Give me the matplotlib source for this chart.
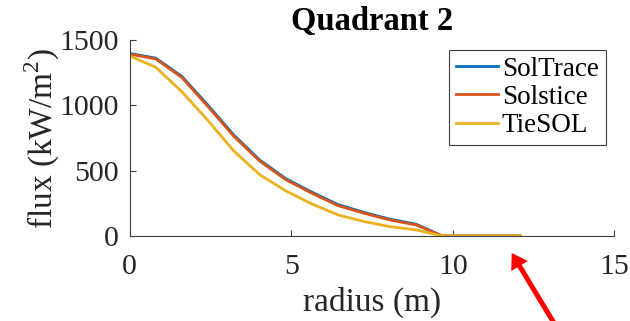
import matplotlib

matplotlib.use("Agg")
import matplotlib.pyplot as plt

# radial bins (m) and flux per tracer (kW/m^2)
radius = [0.0, 0.806, 1.612, 2.418, 3.224, 4.03, 4.836, 5.642, 6.448,
          7.254, 8.06, 8.866, 9.672, 10.478, 11.284, 12.09]
soltrace = [1398, 1362, 1222, 1002, 772, 580, 438, 335, 240,
            180, 128, 90, 0, 0, 0, 0]
solstice = [1393, 1356, 1214, 992, 763, 572, 430, 327, 232,
            174, 122, 84, 0, 0, 0, 0]
tiesol = [1378, 1292, 1105, 885, 650, 468, 345, 245, 161,
          110, 71, 46, 0, 0, 0, 0]

series = [("SolTrace", soltrace, "#0072BD"),
          ("Solstice", solstice, "#D95319"),
          ("TieSOL", tiesol, "#EDB120")]

plt.rcParams["font.family"] = ["Liberation Serif", "DejaVu Serif"]
plt.rcParams["mathtext.fontset"] = "custom"
plt.rcParams["mathtext.rm"] = "Liberation Serif"

fig = plt.figure(figsize=(6.3, 3.21), dpi=100)
ax = fig.add_axes([0.206, 0.265, 0.769, 0.61])

for name, values, color in series:
    ax.plot(radius, values, color=color, linewidth=2.0, label=name)

ax.set_xlim(0, 15)
ax.set_ylim(0, 1500)
ax.set_xticks([0, 5, 10, 15])
ax.set_yticks([0, 500, 1000, 1500])
for side in ("top", "right"):
    ax.spines[side].set_visible(False)
for side in ("left", "bottom"):
    ax.spines[side].set_color("#404040")
    ax.spines[side].set_linewidth(0.8)
ax.tick_params(direction="in", length=4, width=0.8, color="#404040",
               labelsize=21.5, labelcolor="#262626")
ax.tick_params(axis="x", pad=13)
ax.tick_params(axis="y", pad=8)

ax.set_xlabel("radius (m)", fontsize=24, color="#262626", labelpad=5)
ax.set_ylabel("flux (kW/m$^2$)", fontsize=24, color="#262626", labelpad=-2)
ax.set_title("Quadrant 2", fontsize=23.5, fontweight="bold", pad=7)

leg = ax.legend(loc="upper right", bbox_to_anchor=(0.982, 0.95), fontsize=19.5,
                frameon=True, fancybox=False, framealpha=1, edgecolor="#404040",
                handlelength=1.55, handletextpad=0.15, borderpad=0.25,
                labelspacing=0.12, borderaxespad=0)
leg.get_frame().set_linewidth(0.8)

# pointer to the zero-flux tail
fig.add_artist(plt.matplotlib.text.Annotation(
    "", xy=(511.7, 68), xytext=(560, -12),
    xycoords="figure pixels", textcoords="figure pixels",
    arrowprops=dict(facecolor="#FF0000", edgecolor="none", width=3.6,
                    headwidth=14, headlength=11, shrink=0)))

fig.savefig("out.png", dpi=100)
